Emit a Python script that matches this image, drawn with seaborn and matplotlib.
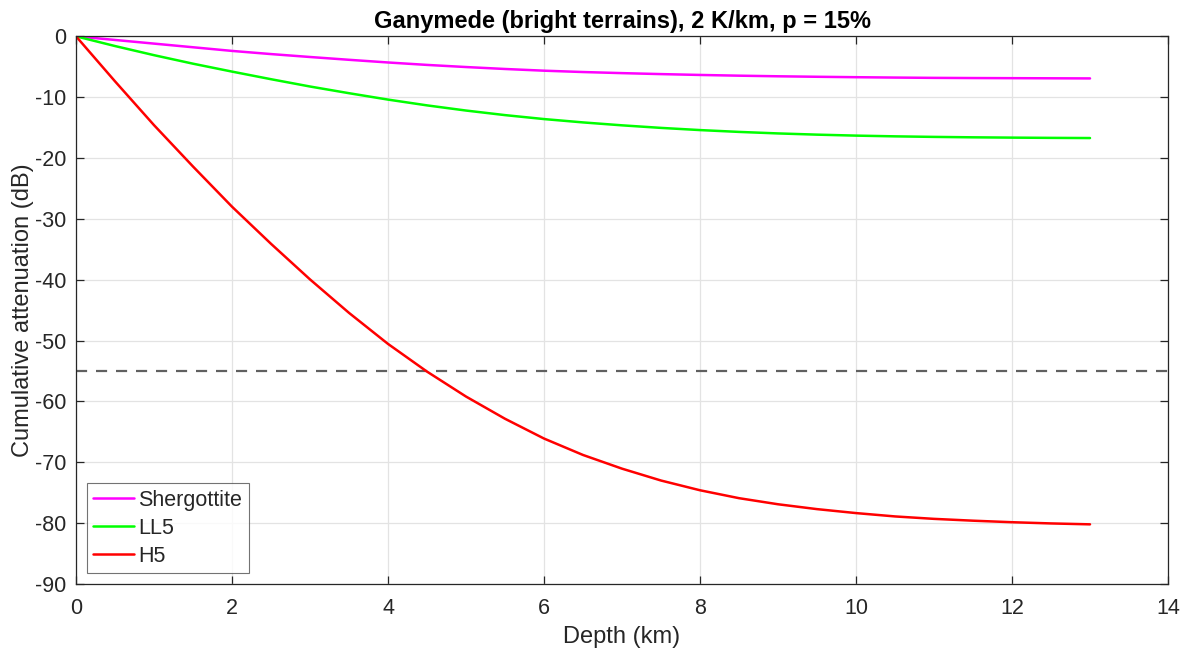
import numpy as np
import pandas as pd
import matplotlib
matplotlib.use("Agg")
import matplotlib.pyplot as plt
import seaborn as sns

depth = [0, 0.5, 1, 1.5, 2, 2.5, 3, 3.5, 4, 4.5, 5, 5.5, 6, 6.5, 7, 7.5, 8,
         8.5, 9, 9.5, 10, 10.5, 11, 11.5, 12, 12.5, 13]
h5 = [0, -7.4, -14.6, -21.4, -28.0, -34.1, -39.95, -45.45, -50.55, -55.1,
      -59.2, -62.85, -66.1, -68.8, -71.05, -73.0, -74.6, -75.9, -76.9, -77.7,
      -78.35, -78.9, -79.3, -79.6, -79.85, -80.05, -80.2]
ll5 = [0, -1.6, -3.1, -4.5, -5.8, -7.05, -8.25, -9.35, -10.4, -11.35, -12.2,
       -12.95, -13.6, -14.15, -14.63, -15.05, -15.41, -15.71, -15.96, -16.16,
       -16.32, -16.44, -16.53, -16.6, -16.65, -16.69, -16.72]
shergottite = [0, -0.6, -1.2, -1.8, -2.4, -2.92, -3.4, -3.86, -4.3, -4.7,
               -5.05, -5.37, -5.65, -5.87, -6.05, -6.21, -6.35, -6.47, -6.57,
               -6.65, -6.72, -6.78, -6.83, -6.86, -6.88, -6.9, -6.92]

threshold = -55
series_names = ["Shergottite", "LL5", "H5"]
colors = ["#ff00ff", "#00ff00", "#ff0000"]
xticks = list(range(0, 15, 2))
yticks = list(range(-90, 1, 10))

df = pd.concat([
    pd.DataFrame({"Depth": depth, "Att": shergottite, "Material": "Shergottite"}),
    pd.DataFrame({"Depth": depth, "Att": ll5, "Material": "LL5"}),
    pd.DataFrame({"Depth": depth, "Att": h5, "Material": "H5"}),
])

sns.set_theme(style="white")
plt.rcParams['font.family'] = ['Liberation Sans', 'DejaVu Sans']

fig = plt.figure(figsize=(11.84, 6.53), dpi=100)
ax = fig.add_axes([0.0642, 0.1057, 0.9223, 0.8387])

ax.grid(True, color="#e3e3e3", linewidth=0.9)
ax.set_axisbelow(True)

sns.lineplot(data=df, x="Depth", y="Att", hue="Material", hue_order=series_names,
             palette=colors, linewidth=1.8, ax=ax, sort=False, estimator=None)
ax.axhline(threshold, color="#606060", linestyle=(0, (5, 4)), linewidth=1.6, zorder=1.5)

ax.set_xlim(0, 14)
ax.set_ylim(-90, 0)
ax.set_xticks(xticks)
ax.set_yticks(yticks)
ax.set_xticklabels([str(t) for t in xticks])
ax.set_yticklabels([str(t) for t in yticks])
ax.tick_params(direction="in", length=6, width=0.9, color="#262626",
               labelsize=15.5, labelcolor="#262626", top=True, right=True,
               bottom=True, left=True, pad=7)
ax.tick_params(axis="x", pad=10)
for s in ax.spines.values():
    s.set_color("#262626")
    s.set_linewidth(0.9)

ax.set_xlabel("Depth (km)", fontsize=17, color="#262626", labelpad=5)
ax.set_ylabel("Cumulative attenuation (dB)", fontsize=17, color="#262626", labelpad=1)
ax.set_title("Ganymede (bright terrains), 2 K/km, p = 15%", fontsize=17,
             fontweight="bold", color="black", pad=6)

leg = ax.legend(loc="lower left", fontsize=15.5, frameon=True, fancybox=False,
                edgecolor="#505050", handlelength=1.9, handletextpad=0.2,
                borderpad=0.3, labelspacing=0.33, borderaxespad=0.5)
leg.get_frame().set_linewidth(0.8)
leg.set_title(None)

fig.savefig("out.png", dpi=100)
